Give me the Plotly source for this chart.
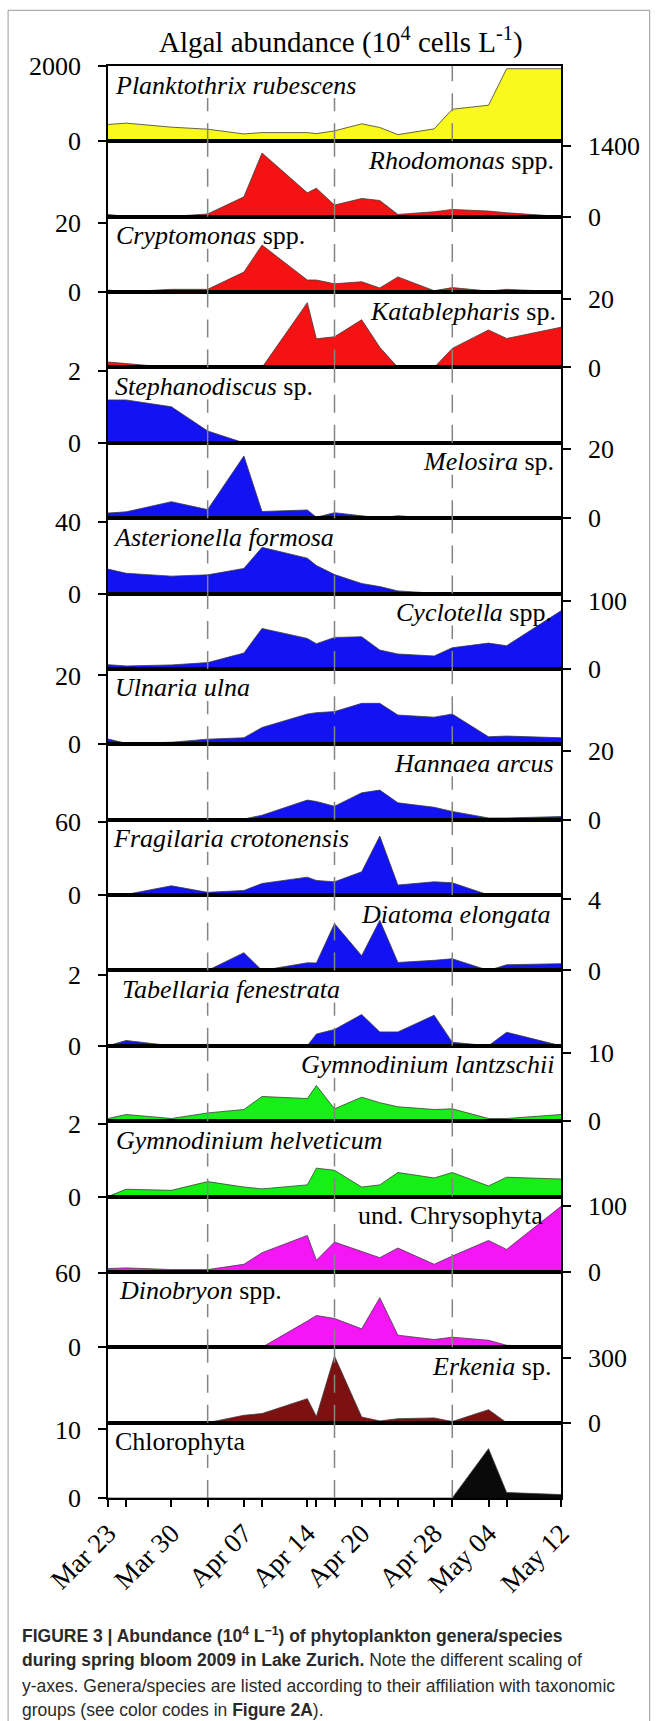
import datetime as dt
import plotly.graph_objects as go
from plotly.subplots import make_subplots

# ---------------- data ----------------
dates = ["2009-03-23", "2009-03-25", "2009-03-30", "2009-04-03", "2009-04-07", "2009-04-09",
         "2009-04-14", "2009-04-15", "2009-04-17", "2009-04-20", "2009-04-22", "2009-04-24",
         "2009-04-28", "2009-04-30", "2009-05-04", "2009-05-06", "2009-05-12"]
tick_labels = ["Mar 23", "", "Mar 30", "", "Apr 07", "", "Apr 14", "", "", "Apr 20", "", "",
               "Apr 28", "", "May 04", "", "May 12"]
phase_dates = ["2009-04-03", "2009-04-17", "2009-04-30"]

planktothrix = [448, 484, 377, 323, 197, 233, 233, 206, 278, 466, 368, 179, 332, 852, 960, 1928, 1928]
rhodomonas = [45, 5, 5, 55, 392, 1256, 471, 562, 229, 360, 320, 46, 98, 144, 111, 78, 5]
cryptomonas = [0.6, 0.1, 0.8, 0.8, 5.8, 13.6, 3.5, 3.5, 2.4, 3.0, 1.2, 4.4, 0.4, 1.3, 0.3, 0.8, 0.1]
katablepharis = [1.6, 1.2, 0, 0, 0, 0, 19.0, 8.4, 9.0, 14.0, 5.9, 0, 0, 5.6, 11.0, 8.5, 11.8]
stephanodiscus = [1.19, 1.19, 1.0, 0.33, 0, 0, 0, 0, 0, 0, 0, 0, 0, 0, 0, 0, 0]
melosira = [1.5, 1.85, 4.8, 2.5, 18.1, 1.95, 2.4, 0.3, 1.6, 0.7, 0.1, 0.7, 0, 0, 0, 0, 0]
asterionella = [13.6, 11.3, 9.7, 10.4, 14.0, 25.7, 19.7, 15.6, 10.6, 5.6, 3.9, 1.5, 0.2, 0.4, 0, 0, 0]
cyclotella = [6.3, 4.4, 5.9, 9.3, 23.4, 59.5, 44.9, 37.1, 46.3, 47.3, 27.8, 22.0, 19.0, 31.2, 38.0, 34.1, 85.4]
ulnaria = [1.55, 0.3, 0.6, 1.5, 1.9, 4.9, 8.8, 9.2, 9.5, 11.9, 11.9, 8.5, 7.9, 8.8, 2.2, 2.4, 1.9]
hannaea = [0.1, 0.3, 0, 0, 0.2, 1.3, 5.7, 5.3, 3.9, 7.8, 8.6, 4.9, 3.6, 2.4, 0.5, 0.5, 0.9]
fragilaria = [0.3, 0.5, 7.6, 2.2, 3.8, 9.5, 14.7, 12.0, 10.9, 19.1, 48.5, 8.2, 10.9, 10.1, 0.1, 0.9, 0]
diatoma = [0, 0, 0, 0, 1.0, 0, 0.43, 0.42, 2.64, 0.83, 2.83, 0.45, 0.57, 0.66, 0, 0.32, 0.38]
tabellaria = [0, 0.15, 0, 0, 0, 0, 0, 0.33, 0.46, 0.88, 0.39, 0.39, 0.86, 0.10, 0, 0.38, 0]
gym_lantzschii = [0.39, 0.97, 0.39, 1.2, 1.7, 3.6, 3.3, 5.2, 1.8, 3.5, 2.7, 2.1, 1.7, 1.8, 0.39, 0.39, 0.97]
gym_helveticum = [0, 0.2, 0.17, 0.41, 0.26, 0.21, 0.32, 0.78, 0.72, 0.26, 0.32, 0.66, 0.51, 0.66, 0.29, 0.53, 0.48]
chrysophyta = [5.1, 6.1, 3.5, 3.5, 11.6, 29.3, 55.6, 17.7, 45.5, 30.8, 21.7, 36.4, 11.6, 24.2, 48.0, 34.3, 100]
dinobryon = [0, 0, 0, 0, 0, 0, 21, 25.5, 23.1, 14.8, 39.8, 9.7, 6.2, 8.1, 5.6, 1.6, 0]
erkenia = [3, 0, 0, 0, 34, 42, 111, 28, 308, 26, 8, 18, 22, 5, 60, 0, 0]
chlorophyta = [0, 0, 0, 0, 0, 0, 0, 0, 0.05, 0, 0, 0, 0.1, 0, 7.2, 0.8, 0.5]

names = ["<i>Planktothrix rubescens</i>", "<i>Rhodomonas</i> spp.", "<i>Cryptomonas</i> spp.",
         "<i>Katablepharis</i> sp.", "<i>Stephanodiscus</i> sp.", "<i>Melosira</i> sp.",
         "<i>Asterionella formosa</i>", "<i>Cyclotella</i> spp.", "<i>Ulnaria ulna</i>",
         "<i>Hannaea arcus</i>", "<i>Fragilaria crotonensis</i>", "<i>Diatoma elongata</i>",
         "<i>Tabellaria fenestrata</i>", "<i>Gymnodinium lantzschii</i>", "<i>Gymnodinium helveticum</i>",
         "und. Chrysophyta", "<i>Dinobryon</i> spp.", "<i>Erkenia</i> sp.", "Chlorophyta"]
series = [planktothrix, rhodomonas, cryptomonas, katablepharis, stephanodiscus, melosira,
          asterionella, cyclotella, ulnaria, hannaea, fragilaria, diatoma, tabellaria,
          gym_lantzschii, gym_helveticum, chrysophyta, dinobryon, erkenia, chlorophyta]
top_ticks = [2000, 1400, 20, 20, 2, 20, 40, 100, 20, 20, 60, 4, 2, 10, 2, 100, 60, 300, 10]

# ---------------- styling ----------------
YELLOW, RED, BLUE, GREEN, MAGENTA, DARKRED, BLACK = (
    "#F9F91B", "#F51212", "#1212F2", "#16F016", "#F516F5", "#7B1111", "#0A0A0A")
fills = [YELLOW, RED, RED, RED, BLUE, BLUE, BLUE, BLUE, BLUE, BLUE, BLUE, BLUE, BLUE,
         GREEN, GREEN, MAGENTA, MAGENTA, DARKRED, BLACK]
range_max = [2000, 1485, 21.8, 22.1, 2.09, 21.9, 41.9, 110.7, 21.9, 21.9, 61.9, 4.25, 2.12,
             11.0, 2.07, 115, 60.5, 349, 11.0]
# label anchor (figure px): start x for left labels, end x for right labels; and the other end
label_px = [114, 555, 115, 557, 114, 555, 112, 553, 114, 555, 112, 552, 121, 556, 115, 544, 118, 552, 114]
label_far_px = [356, 367, 308, 369, 316, 425, 336, 390, 250, 394, 352, 359, 344, 298, 385, 356, 282, 432, 245]

W, H = 657, 1721
L, R = 108.3, 561.3
T, B = 65.7, 1498.3
PW, PH = R - L, B - T
SERIF = "Liberation Serif, Times New Roman, serif"

n = len(series)
fig = make_subplots(rows=n, cols=1, shared_xaxes=True, vertical_spacing=0)

for i, (vals, col) in enumerate(zip(series, fills)):
    row = i + 1
    fig.add_trace(go.Scatter(x=dates, y=vals, mode="lines", fill="tozeroy", fillcolor=col,
                             line=dict(color="#3c3c3c", width=0.8), hoverinfo="skip"),
                  row=row, col=1)
    side = "left" if i % 2 == 0 else "right"
    fig.update_yaxes(range=[0, range_max[i]], tickvals=[0, top_ticks[i]],
                     ticktext=["0", str(top_ticks[i])], side=side,
                     showline=True, mirror=True, linecolor="black", linewidth=1.5,
                     ticks="outside", ticklen=8, tickwidth=1.5, tickcolor="black",
                     showgrid=False, zeroline=False, ticklabelstandoff=12,
                     tickfont=dict(family=SERIF, size=26, color="black"),
                     row=row, col=1)
    fig.update_xaxes(type="date", range=[dates[0], dates[-1]], showline=True, mirror=True,
                     linecolor="black", linewidth=1.5, showgrid=False, zeroline=False,
                     row=row, col=1)

major_vals = [d for d, t in zip(dates, tick_labels) if t]
major_text = [t for t in tick_labels if t]
minor_vals = [d for d, t in zip(dates, tick_labels) if not t]
fig.update_xaxes(tickmode="array", tickvals=major_vals, ticktext=major_text, ticks="outside",
                 ticklen=7, tickwidth=1.5, tickcolor="black", tickangle=-45, showticklabels=True,
                 tickfont=dict(family=SERIF, size=27, color="black"),
                 minor=dict(tickmode="array", tickvals=minor_vals, ticks="outside", ticklen=7,
                            tickwidth=1.5, tickcolor="black", showgrid=False),
                 row=n, col=1)

annotations = []
for i, name in enumerate(names):
    d1 = 1 - i / n
    xa = "left" if i % 2 == 0 else "right"
    annotations.append(dict(text=name, xref="paper", yref="paper", x=(label_px[i] - L) / PW,
                            y=d1, xanchor=xa, yanchor="middle", yshift=-19, showarrow=False,
                            borderpad=0, font=dict(family=SERIF, size=26, color="black")))

annotations.append(dict(text="Algal abundance (10<sup>4</sup> cells L<sup>-1</sup>)",
                        xref="paper", yref="paper", x=(341 - L) / PW, y=1 + (T - 39.7) / PH,
                        xanchor="center", yanchor="middle", showarrow=False,
                        font=dict(family=SERIF, size=29, color="black")))

CAP = "Liberation Sans, Arial, sans-serif"
caption_lines = [
    "<b>FIGURE 3 | Abundance (10<sup>4</sup> L<sup>−1</sup>) of phytoplankton genera/species</b>",
    "<b>during spring bloom 2009 in Lake Zurich.</b> Note the different scaling of",
    "y-axes. Genera/species are listed according to their affiliation with taxonomic",
    "groups (see color codes in <b>Figure 2A</b>).",
]
caption_y = [1635, 1660, 1686, 1710]
for txt, yy in zip(caption_lines, caption_y):
    annotations.append(dict(text=txt, xref="paper", yref="paper", x=(20 - L) / PW,
                            y=(B - yy) / PH, xanchor="left", yanchor="middle", showarrow=False,
                            font=dict(family=CAP, size=17.5, color="#2a2a2a")))

# dashed phase lines, drawn per panel and interrupted under the species labels
d_start = dt.date.fromisoformat(dates[0])
d_span = (dt.date.fromisoformat(dates[-1]) - d_start).days
shapes = []
for d in phase_dates:
    xp = L + (dt.date.fromisoformat(d) - d_start).days / d_span * PW
    for i in range(n):
        top = 1 - i / n
        bot = 1 - (i + 1) / n
        lo, hi = sorted([label_px[i], label_far_px[i]])
        y1 = top - 32 / PH if lo - 2 <= xp <= hi + 2 else top
        shapes.append(dict(type="line", xref="x", yref="paper", x0=d, x1=d, y0=bot, y1=y1,
                           line=dict(color="#858585", width=1.5, dash="18px,12px"),
                           layer="above"))

# outer figure frame
fx0, fx1 = (8.4 - L) / PW, (650 - L) / PW
fy1, fy0 = 1 + (T - 10) / PH, (B - 1730) / PH
frame = dict(color="#9a9a9a", width=1)
shapes.append(dict(type="line", xref="paper", yref="paper", x0=fx0, x1=fx0, y0=fy0, y1=fy1, line=frame))
shapes.append(dict(type="line", xref="paper", yref="paper", x0=fx0, x1=fx1, y0=fy1, y1=fy1, line=frame))
shapes.append(dict(type="line", xref="paper", yref="paper", x0=fx1, x1=fx1, y0=fy0, y1=fy1, line=frame))

fig.update_layout(width=W, height=H, margin=dict(l=L, r=W - R, t=T, b=H - B, pad=0),
                  paper_bgcolor="white", plot_bgcolor="white", showlegend=False,
                  annotations=annotations, shapes=shapes)

fig.write_html("out.html")
